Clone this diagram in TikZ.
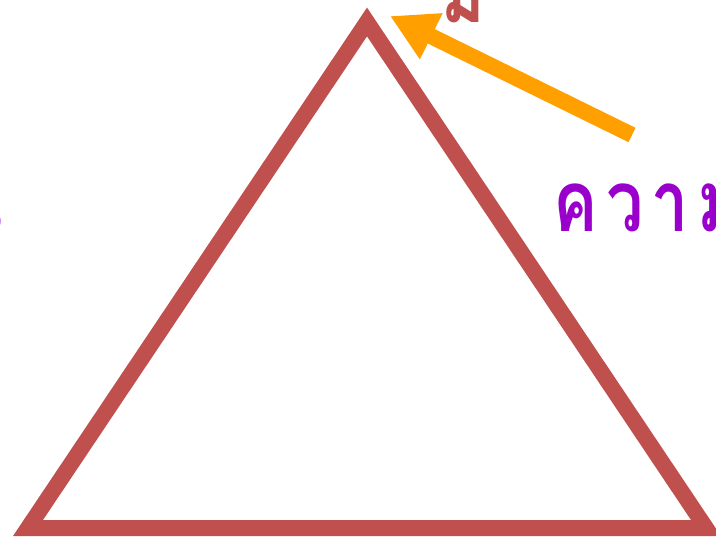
\documentclass[tikz,border=0pt]{standalone}
\usepackage{fontspec}
\newfontfamily\thaifont[Script=Thai, FakeStretch=0.78, LetterSpace=10]{Loma}
\usetikzlibrary{arrows.meta}
\definecolor{trired}{HTML}{C0504D}
\definecolor{arroworange}{HTML}{FFA000}
\definecolor{labelpurple}{HTML}{9900CC}
\begin{document}
\begin{tikzpicture}[x=1pt,y=-1pt,
  edge/.style={draw=trired, line width=16pt, line join=miter, miter limit=10},
  pointer/.style={draw=arroworange, line width=16pt, -{Triangle[length=46pt,width=48pt]}},
  thai/.style={font=\thaifont\bfseries\fontsize{85}{95}\selectfont, inner sep=0pt, anchor=base west}]
\useasboundingbox (0,0) rectangle (716,541);
\coordinate (A) at (367,22);
\coordinate (B) at (28,528);
\coordinate (C) at (706,528);
\draw[edge] (A) -- (B) -- (C) -- cycle;
\coordinate (tail) at (632,135);
\coordinate (tip) at (390,16);
\draw[pointer] (tail) -- (tip);
\node[thai, text=labelpurple] (h) at (553,231) {ความสูง};
\node[thai, text=labelpurple, anchor=base east] (b) at (3,231) {ฐาน};
\node[thai, text=trired] (t) at (441,22) {ม};
\end{tikzpicture}
\end{document}
